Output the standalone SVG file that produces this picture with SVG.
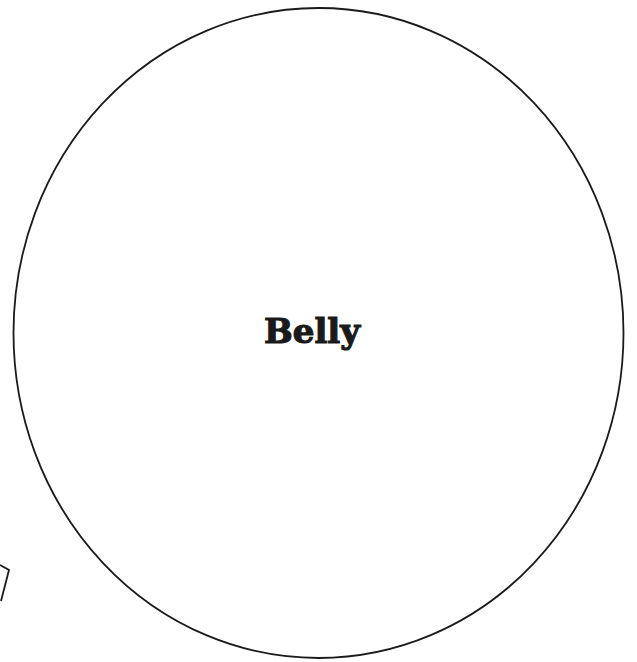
<svg xmlns="http://www.w3.org/2000/svg" width="637" height="662" viewBox="0 0 637 662">
<style>
.shape{fill:none;stroke:#1a1a1a;stroke-width:1.8;stroke-linejoin:miter}
.label{font-family:"DejaVu Serif","Liberation Serif",serif;font-weight:bold;font-size:34px;fill:#1a1a1a;stroke:#1a1a1a;stroke-width:1.2;text-anchor:middle}
</style>
<rect width="637" height="662" fill="#ffffff"/>
<g id="belly">
<ellipse class="shape" cx="318.5" cy="333" rx="305" ry="325"/>
<text class="label" x="312" y="343">Belly</text>
</g>
<g id="corner-shape">
<polyline class="shape" points="0,565 9,570 1,601"/>
</g>
</svg>
